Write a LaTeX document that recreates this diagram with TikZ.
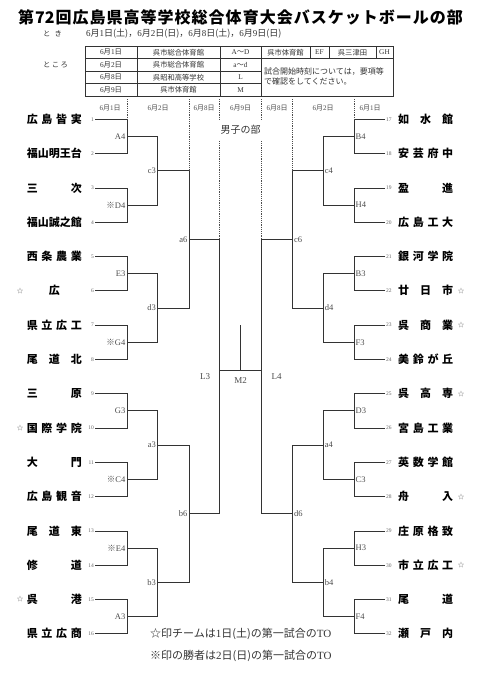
\documentclass[tikz,border=0pt]{standalone}
\usepackage{fontspec}
\setmainfont{Liberation Serif}
\newfontfamily\jp{Noto Sans CJK JP}
\newcommand\tmname[1]{\makebox[55pt][s]{#1}}
\newcommand\kome{{\jp ※}}
\newcommand\hday[2]{{\rmfamily #1}月{\rmfamily #2}日}

\begin{document}
\begin{tikzpicture}[x=1pt,y=-1pt,
  team/.style={font=\jp\bfseries\fontsize{11}{11}\selectfont,inner sep=0pt},
  num/.style={font=\fontsize{5.5}{6}\selectfont,text=black!60,inner sep=1pt},
  lbl/.style={font=\fontsize{8.5}{9}\selectfont,text=black!70,inner sep=0pt},
  star/.style={font=\jp\fontsize{6.5}{7}\selectfont,text=black!60,inner sep=0pt},
  cell/.style={font=\jp\fontsize{7.3}{8}\selectfont,text=black!80,inner sep=0pt},
  hdate/.style={font=\jp\fontsize{7}{7}\selectfont,text=black!70,inner sep=0pt},
  note/.style={font=\jp\fontsize{11}{11}\selectfont,text=black!80,inner sep=0pt,anchor=west},
  brk/.style={line width=0.8pt,black!80},
  guide/.style={line width=0.6pt,black!70,dash pattern=on 1.2pt off 1pt},
  grid/.style={line width=0.8pt,black!80}]
  \fill[white] (0,0) rectangle (481,680);
  % Title
  \node[font=\jp\bfseries\fontsize{16}{16}\selectfont,inner sep=0pt] (title) at (240.5,17)
    {\makebox[445pt][s]{第\hfill 72\hfill 回\hfill 広\hfill 島\hfill 県\hfill 高\hfill 等\hfill 学\hfill 校\hfill 総\hfill 合\hfill 体\hfill 育\hfill 大\hfill 会\hfill バ\hfill ス\hfill ケ\hfill ッ\hfill ト\hfill ボ\hfill ー\hfill ル\hfill の\hfill 部}};
  \node[cell] (toki) at (52.5,34) {\makebox[19pt][s]{と\hfill き}};
  \node[cell,anchor=west,font=\jp\fontsize{9}{9}\selectfont] (dates) at (86,34)
    {\hday{6}{1}(土)，\hday{6}{2}(日)，\hday{6}{8}(土)，\hday{6}{9}(日)};
  % Table
  \node[cell] (tokoro) at (55.5,64.75) {\makebox[25pt][s]{と\hfill こ\hfill ろ}};
  \draw[grid] (85,46) rectangle (393,96);
  \draw[grid] (85,58.5) -- (393,58.5) (85,71) -- (261,71) (85,83.5) -- (261,83.5);
  \draw[grid] (137,46) -- (137,96) (220,46) -- (220,96) (261,46) -- (261,96);
  \draw[grid] (310,46) -- (310,58.5) (329,46) -- (329,58.5) (376,46) -- (376,58.5);
  \node[cell] (r1a) at (111,52.25) {\hday{6}{1}};
  \node[cell] (r1b) at (178.5,52.25) {呉市総合体育館};
  \node[cell] (r1c) at (240.5,52.25) {{\rmfamily A}～{\rmfamily D}};
  \node[cell] (r1d) at (285.5,52.25) {呉市体育館};
  \node[cell] (r1e) at (319.5,52.25) {\rmfamily EF};
  \node[cell] (r1f) at (352.5,52.25) {呉三津田};
  \node[cell] (r1g) at (384.5,52.25) {\rmfamily GH};
  \node[cell] (r2a) at (111,64.75) {\hday{6}{2}};
  \node[cell] (r2b) at (178.5,64.75) {呉市総合体育館};
  \node[cell] (r2c) at (240.5,64.75) {{\rmfamily a}～{\rmfamily d}};
  \node[cell] (r3a) at (111,77.25) {\hday{6}{8}};
  \node[cell] (r3b) at (178.5,77.25) {呉昭和高等学校};
  \node[cell] (r3c) at (240.5,77.25) {\rmfamily L};
  \node[cell] (r4a) at (111,89.75) {\hday{6}{9}};
  \node[cell] (r4b) at (178.5,89.75) {呉市体育館};
  \node[cell] (r4c) at (240.5,89.75) {\rmfamily M};
  \node[cell,anchor=west,align=left,font=\jp\fontsize{8}{10}\selectfont] (remark) at (264,76)
    {試合開始時刻については，要項等\\で確認をしてください。};
  % Days
  \coordinate (hdr) at (0,99);
  \node[hdate] (h1) at (110,108) {\hday{6}{1}};
  \node[hdate] (h2) at (158,108) {\hday{6}{2}};
  \node[hdate] (h3) at (204,108) {\hday{6}{8}};
  \node[hdate] (h4) at (240.5,108) {\hday{6}{9}};
  \node[hdate] (h5) at (277,108) {\hday{6}{8}};
  \node[hdate] (h6) at (323,108) {\hday{6}{2}};
  \node[hdate] (h7) at (370,108) {\hday{6}{1}};
  % Left half
  \node[team,anchor=east] (n1) at (82,119.3) {\tmname{広\hfill 島\hfill 皆\hfill 実}};
  \node[team,anchor=east] (n2) at (82,153.6) {\tmname{福\hfill 山\hfill 明\hfill 王\hfill 台}};
  \node[team,anchor=east] (n3) at (82,187.9) {\tmname{三\hfill 次}};
  \node[team,anchor=east] (n4) at (82,222.2) {\tmname{福\hfill 山\hfill 誠\hfill 之\hfill 館}};
  \node[team,anchor=east] (n5) at (82,256.5) {\tmname{西\hfill 条\hfill 農\hfill 業}};
  \node[team,anchor=east] (n6) at (82,290.8) {\tmname{\hfill 広\hfill}};
  \node[team,anchor=east] (n7) at (82,325.1) {\tmname{県\hfill 立\hfill 広\hfill 工}};
  \node[team,anchor=east] (n8) at (82,359.4) {\tmname{尾\hfill 道\hfill 北}};
  \node[team,anchor=east] (n9) at (82,393.7) {\tmname{三\hfill 原}};
  \node[team,anchor=east] (n10) at (82,428.0) {\tmname{国\hfill 際\hfill 学\hfill 院}};
  \node[team,anchor=east] (n11) at (82,462.3) {\tmname{大\hfill 門}};
  \node[team,anchor=east] (n12) at (82,496.6) {\tmname{広\hfill 島\hfill 観\hfill 音}};
  \node[team,anchor=east] (n13) at (82,530.9) {\tmname{尾\hfill 道\hfill 東}};
  \node[team,anchor=east] (n14) at (82,565.2) {\tmname{修\hfill 道}};
  \node[team,anchor=east] (n15) at (82,599.5) {\tmname{呉\hfill 港}};
  \node[team,anchor=east] (n16) at (82,633.8) {\tmname{県\hfill 立\hfill 広\hfill 商}};
  \node[star] (s6) at (20,290.8) {☆};
  \node[star] (s10) at (20,428.0) {☆};
  \node[star] (s15) at (20,599.5) {☆};
  \node[num,anchor=east] (p1) at (95,119.3) {1};
  \node[num,anchor=east] (p2) at (95,153.6) {2};
  \node[num,anchor=east] (p3) at (95,187.9) {3};
  \node[num,anchor=east] (p4) at (95,222.2) {4};
  \node[num,anchor=east] (p5) at (95,256.5) {5};
  \node[num,anchor=east] (p6) at (95,290.8) {6};
  \node[num,anchor=east] (p7) at (95,325.1) {7};
  \node[num,anchor=east] (p8) at (95,359.4) {8};
  \node[num,anchor=east] (p9) at (95,393.7) {9};
  \node[num,anchor=east] (p10) at (95,428.0) {10};
  \node[num,anchor=east] (p11) at (95,462.3) {11};
  \node[num,anchor=east] (p12) at (95,496.6) {12};
  \node[num,anchor=east] (p13) at (95,530.9) {13};
  \node[num,anchor=east] (p14) at (95,565.2) {14};
  \node[num,anchor=east] (p15) at (95,599.5) {15};
  \node[num,anchor=east] (p16) at (95,633.8) {16};
  \coordinate (A4) at (127,136.45); \coordinate (D4) at (127,205.05);
  \coordinate (E3) at (127,273.65); \coordinate (G4) at (127,342.25);
  \coordinate (G3) at (127,410.85); \coordinate (C4) at (127,479.45);
  \coordinate (E4) at (127,548.05); \coordinate (A3) at (127,616.65);
  \coordinate (c3) at (157.3,170.75); \coordinate (d3) at (157.3,307.95);
  \coordinate (a3) at (157.3,445.15); \coordinate (b3) at (157.3,582.35);
  \coordinate (a6) at (189,239.35); \coordinate (b6) at (189,513.75);
  \coordinate (L3) at (219.3,370);
  \draw[brk] (p1) -| (A4); \draw[brk] (p2) -| (A4);
  \draw[brk] (p3) -| (D4); \draw[brk] (p4) -| (D4);
  \draw[brk] (p5) -| (E3); \draw[brk] (p6) -| (E3);
  \draw[brk] (p7) -| (G4); \draw[brk] (p8) -| (G4);
  \draw[brk] (p9) -| (G3); \draw[brk] (p10) -| (G3);
  \draw[brk] (p11) -| (C4); \draw[brk] (p12) -| (C4);
  \draw[brk] (p13) -| (E4); \draw[brk] (p14) -| (E4);
  \draw[brk] (p15) -| (A3); \draw[brk] (p16) -| (A3);
  \draw[brk] (A4) -| (c3); \draw[brk] (D4) -| (c3);
  \draw[brk] (E3) -| (d3); \draw[brk] (G4) -| (d3);
  \draw[brk] (G3) -| (a3); \draw[brk] (C4) -| (a3);
  \draw[brk] (E4) -| (b3); \draw[brk] (A3) -| (b3);
  \draw[brk] (c3) -| (a6); \draw[brk] (d3) -| (a6);
  \draw[brk] (a3) -| (b6); \draw[brk] (b3) -| (b6);
  \draw[brk] (a6) -| (L3); \draw[brk] (b6) -| (L3);
  \node[lbl,anchor=east] (tA4) at ([xshift=-1.5pt]A4) {A4};
  \node[lbl,anchor=east] (tD4) at ([xshift=-1.5pt]D4) {\kome D4};
  \node[lbl,anchor=east] (tE3) at ([xshift=-1.5pt]E3) {E3};
  \node[lbl,anchor=east] (tG4) at ([xshift=-1.5pt]G4) {\kome G4};
  \node[lbl,anchor=east] (tG3) at ([xshift=-1.5pt]G3) {G3};
  \node[lbl,anchor=east] (tC4) at ([xshift=-1.5pt]C4) {\kome C4};
  \node[lbl,anchor=east] (tE4) at ([xshift=-1.5pt]E4) {\kome E4};
  \node[lbl,anchor=east] (tA3) at ([xshift=-1.5pt]A3) {A3};
  \node[lbl,anchor=east] (tc3) at ([xshift=-1.3pt]c3) {c3};
  \node[lbl,anchor=east] (td3) at ([xshift=-1.3pt]d3) {d3};
  \node[lbl,anchor=east] (ta3) at ([xshift=-1.3pt]a3) {a3};
  \node[lbl,anchor=east] (tb3) at ([xshift=-1.3pt]b3) {b3};
  \node[lbl,anchor=east] (ta6) at ([xshift=-1.5pt]a6) {a6};
  \node[lbl,anchor=east] (tb6) at ([xshift=-1.5pt]b6) {b6};
  % Right half
  \node[team,anchor=west] (n17) at (398,119.3) {\tmname{如\hfill 水\hfill 館}};
  \node[team,anchor=west] (n18) at (398,153.6) {\tmname{安\hfill 芸\hfill 府\hfill 中}};
  \node[team,anchor=west] (n19) at (398,187.9) {\tmname{盈\hfill 進}};
  \node[team,anchor=west] (n20) at (398,222.2) {\tmname{広\hfill 島\hfill 工\hfill 大}};
  \node[team,anchor=west] (n21) at (398,256.5) {\tmname{銀\hfill 河\hfill 学\hfill 院}};
  \node[team,anchor=west] (n22) at (398,290.8) {\tmname{廿\hfill 日\hfill 市}};
  \node[team,anchor=west] (n23) at (398,325.1) {\tmname{呉\hfill 商\hfill 業}};
  \node[team,anchor=west] (n24) at (398,359.4) {\tmname{美\hfill 鈴\hfill が\hfill 丘}};
  \node[team,anchor=west] (n25) at (398,393.7) {\tmname{呉\hfill 高\hfill 専}};
  \node[team,anchor=west] (n26) at (398,428.0) {\tmname{宮\hfill 島\hfill 工\hfill 業}};
  \node[team,anchor=west] (n27) at (398,462.3) {\tmname{英\hfill 数\hfill 学\hfill 館}};
  \node[team,anchor=west] (n28) at (398,496.6) {\tmname{舟\hfill 入}};
  \node[team,anchor=west] (n29) at (398,530.9) {\tmname{庄\hfill 原\hfill 格\hfill 致}};
  \node[team,anchor=west] (n30) at (398,565.2) {\tmname{市\hfill 立\hfill 広\hfill 工}};
  \node[team,anchor=west] (n31) at (398,599.5) {\tmname{尾\hfill 道}};
  \node[team,anchor=west] (n32) at (398,633.8) {\tmname{瀬\hfill 戸\hfill 内}};
  \node[star] (s22) at (461,290.8) {☆};
  \node[star] (s23) at (461,325.1) {☆};
  \node[star] (s25) at (461,393.7) {☆};
  \node[star] (s28) at (461,496.6) {☆};
  \node[star] (s30) at (461,565.2) {☆};
  \node[num,anchor=west] (p17) at (385,119.3) {17};
  \node[num,anchor=west] (p18) at (385,153.6) {18};
  \node[num,anchor=west] (p19) at (385,187.9) {19};
  \node[num,anchor=west] (p20) at (385,222.2) {20};
  \node[num,anchor=west] (p21) at (385,256.5) {21};
  \node[num,anchor=west] (p22) at (385,290.8) {22};
  \node[num,anchor=west] (p23) at (385,325.1) {23};
  \node[num,anchor=west] (p24) at (385,359.4) {24};
  \node[num,anchor=west] (p25) at (385,393.7) {25};
  \node[num,anchor=west] (p26) at (385,428.0) {26};
  \node[num,anchor=west] (p27) at (385,462.3) {27};
  \node[num,anchor=west] (p28) at (385,496.6) {28};
  \node[num,anchor=west] (p29) at (385,530.9) {29};
  \node[num,anchor=west] (p30) at (385,565.2) {30};
  \node[num,anchor=west] (p31) at (385,599.5) {31};
  \node[num,anchor=west] (p32) at (385,633.8) {32};
  \coordinate (B4) at (354,136.45); \coordinate (H4) at (354,205.05);
  \coordinate (B3) at (354,273.65); \coordinate (F3) at (354,342.25);
  \coordinate (D3) at (354,410.85); \coordinate (C3) at (354,479.45);
  \coordinate (H3) at (354,548.05); \coordinate (F4) at (354,616.65);
  \coordinate (c4) at (323.3,170.75); \coordinate (d4) at (323.3,307.95);
  \coordinate (a4) at (323.3,445.15); \coordinate (b4) at (323.3,582.35);
  \coordinate (c6) at (292.3,239.35); \coordinate (d6) at (292.3,513.75);
  \coordinate (L4) at (261.7,370);
  \draw[brk] (p17) -| (B4); \draw[brk] (p18) -| (B4);
  \draw[brk] (p19) -| (H4); \draw[brk] (p20) -| (H4);
  \draw[brk] (p21) -| (B3); \draw[brk] (p22) -| (B3);
  \draw[brk] (p23) -| (F3); \draw[brk] (p24) -| (F3);
  \draw[brk] (p25) -| (D3); \draw[brk] (p26) -| (D3);
  \draw[brk] (p27) -| (C3); \draw[brk] (p28) -| (C3);
  \draw[brk] (p29) -| (H3); \draw[brk] (p30) -| (H3);
  \draw[brk] (p31) -| (F4); \draw[brk] (p32) -| (F4);
  \draw[brk] (B4) -| (c4); \draw[brk] (H4) -| (c4);
  \draw[brk] (B3) -| (d4); \draw[brk] (F3) -| (d4);
  \draw[brk] (D3) -| (a4); \draw[brk] (C3) -| (a4);
  \draw[brk] (H3) -| (b4); \draw[brk] (F4) -| (b4);
  \draw[brk] (c4) -| (c6); \draw[brk] (d4) -| (c6);
  \draw[brk] (a4) -| (d6); \draw[brk] (b4) -| (d6);
  \draw[brk] (c6) -| (L4); \draw[brk] (d6) -| (L4);
  \node[lbl,anchor=west] (tB4) at ([xshift=1.5pt]B4) {B4};
  \node[lbl,anchor=west] (tH4) at ([xshift=1.5pt]H4) {H4};
  \node[lbl,anchor=west] (tB3) at ([xshift=1.5pt]B3) {B3};
  \node[lbl,anchor=west] (tF3) at ([xshift=1.5pt]F3) {F3};
  \node[lbl,anchor=west] (tD3) at ([xshift=1.5pt]D3) {D3};
  \node[lbl,anchor=west] (tC3) at ([xshift=1.5pt]C3) {C3};
  \node[lbl,anchor=west] (tH3) at ([xshift=1.5pt]H3) {H3};
  \node[lbl,anchor=west] (tF4) at ([xshift=1.5pt]F4) {F4};
  \node[lbl,anchor=west] (tc4) at ([xshift=1.3pt]c4) {c4};
  \node[lbl,anchor=west] (td4) at ([xshift=1.3pt]d4) {d4};
  \node[lbl,anchor=west] (ta4) at ([xshift=1.3pt]a4) {a4};
  \node[lbl,anchor=west] (tb4) at ([xshift=1.3pt]b4) {b4};
  \node[lbl,anchor=west] (tc6) at ([xshift=1.5pt]c6) {c6};
  \node[lbl,anchor=west] (td6) at ([xshift=1.5pt]d6) {d6};
  % Final
  \coordinate (M2) at (240.5,370);
  \coordinate (champ) at (240.5,325);
  \draw[brk] (L3) -- (L4);
  \draw[brk] (M2) -- (champ);
  \node[lbl,font=\fontsize{9}{9}\selectfont] (tL3) at (205,376.5) {L3};
  \node[lbl,font=\fontsize{9}{9}\selectfont] (tL4) at (276.7,376.5) {L4};
  \node[lbl,font=\fontsize{9}{9}\selectfont] (tM2) at (240.7,381) {M2};
  % Day guides
  \draw[guide] (A4 |- hdr) -- (A4 |- p1);
  \draw[guide] (a6 |- hdr) -- (a6 |- c3);
  \draw[guide] (L3 |- hdr) -- (L3 |- a6);
  \draw[guide] (L4 |- hdr) -- (L4 |- c6);
  \draw[guide] (c6 |- hdr) -- (c6 |- c4);
  \draw[guide] (B4 |- hdr) -- (B4 |- p17);
  \node[font=\jp\fontsize{10}{10}\selectfont,text=black!80,fill=white,inner xsep=3pt,inner ysep=5pt] (boys) at (240.5,130) {男子の部};
  % Notes
  \node[note] (fn1) at (150,633.8) {☆印チームは{\rmfamily 1}日(土)の第一試合の{\rmfamily TO}};
  \node[note] (fn2) at (150,656) {※印の勝者は{\rmfamily 2}日(日)の第一試合の{\rmfamily TO}};
\end{tikzpicture}
\end{document}
